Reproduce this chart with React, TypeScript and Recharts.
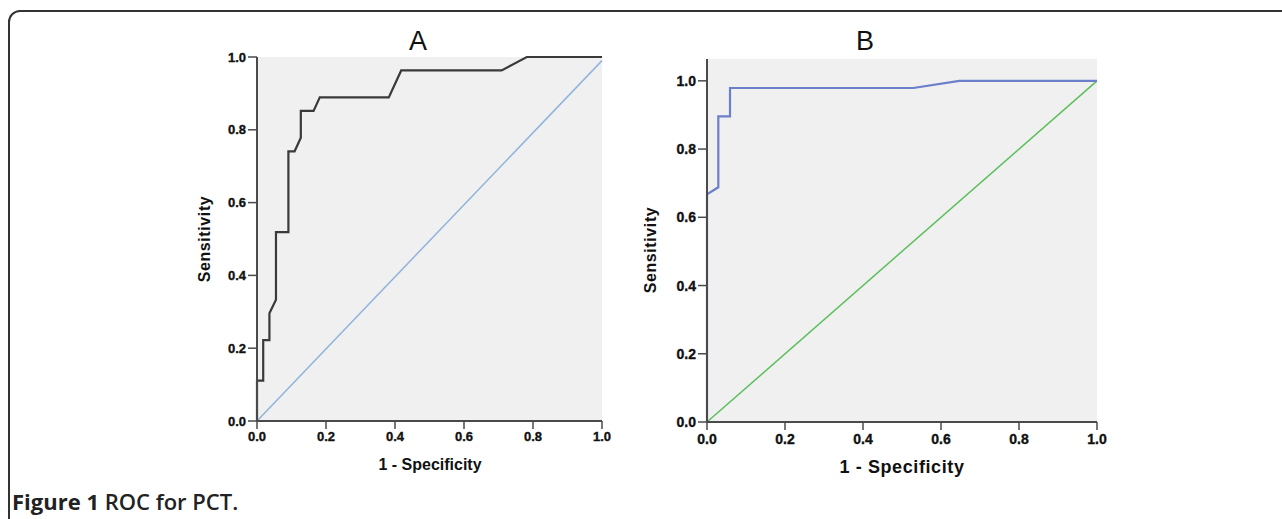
import { CartesianGrid, Line, LineChart, XAxis, YAxis } from "recharts";

// panel A: ROC points (1 - specificity, sensitivity)
const rocA_x = [0, 0, 0.018, 0.018, 0.036, 0.036, 0.055, 0.055, 0.091, 0.091, 0.109, 0.127, 0.127, 0.164, 0.182, 0.382, 0.418, 0.709, 0.782, 1.0];
const rocA_y = [0, 0.111, 0.111, 0.222, 0.222, 0.296, 0.333, 0.519, 0.519, 0.741, 0.741, 0.778, 0.852, 0.852, 0.889, 0.889, 0.963, 0.963, 1.0, 1.0];
const refA_x = [0, 1];
const refA_y = [0, 0.99];

// panel B
const rocB_x = [0, 0, 0.029, 0.029, 0.059, 0.059, 0.529, 0.647, 1.0];
const rocB_y = [0, 0.667, 0.688, 0.896, 0.896, 0.979, 0.979, 1.0, 1.0];
const refB_x = [0, 1];
const refB_y = [0, 1];

const ticks = [0, 0.2, 0.4, 0.6, 0.8, 1.0];

const zip = (xs: number[], ys: number[]) => xs.map((x, i) => ({ x, y: ys[i] }));

const FONT = "'Liberation Sans', Arial, sans-serif";
const AXIS = "#4a4a4a";

const makeTick = (size: number, axis: "x" | "y", dy: number) => (props: any) => {
  const { x, y, payload } = props;
  const txt = Number(payload.value).toFixed(1);
  const common = { fontSize: size, fontWeight: 700, fill: "#111", stroke: "#111", strokeWidth: 0.35, fontFamily: FONT };
  if (axis === "x") {
    return (
      <text x={x} y={y + dy} textAnchor="middle" {...common}>
        {txt}
      </text>
    );
  }
  return (
    <text x={x} y={y + size * 0.36} textAnchor="end" {...common}>
      {txt}
    </text>
  );
};

interface PanelProps {
  left: number;
  top: number;
  width: number;
  height: number;
  margin: { top: number; right: number; bottom: number; left: number };
  yMax: number;
  curve: { x: number; y: number }[];
  ref: { x: number; y: number }[];
  curveColor: string;
  refColor: string;
  tickSize: number;
  tickDy: number;
}

function Panel(p: PanelProps) {
  return (
    <div style={{ position: "absolute", left: p.left, top: p.top }}>
      <LineChart width={p.width} height={p.height} margin={p.margin}>
        <CartesianGrid horizontal={false} vertical={false} fill="#f0f0f0" />
        <XAxis
          type="number"
          dataKey="x"
          domain={[0, 1]}
          ticks={ticks}
          height={50}
          tickSize={8}
          tick={makeTick(p.tickSize, "x", p.tickDy)}
          axisLine={{ stroke: AXIS, strokeWidth: 2 }}
          tickLine={{ stroke: AXIS, strokeWidth: 1.5 }}
        />
        <XAxis xAxisId="top" orientation="top" type="number" domain={[0, 1]} height={0} tick={false} tickLine={false} axisLine={{ stroke: AXIS, strokeWidth: 2 }} />
        <YAxis
          type="number"
          dataKey="y"
          domain={[0, p.yMax]}
          ticks={ticks}
          width={60}
          tickSize={9}
          tick={makeTick(p.tickSize, "y", 0)}
          axisLine={{ stroke: AXIS, strokeWidth: 2 }}
          tickLine={{ stroke: AXIS, strokeWidth: 1.5 }}
        />
        <YAxis yAxisId="right" orientation="right" type="number" domain={[0, p.yMax]} width={0} tick={false} tickLine={false} axisLine={{ stroke: AXIS, strokeWidth: 2 }} />
        <Line data={p.ref} dataKey="y" type="linear" stroke={p.refColor} strokeWidth={1.5} dot={false} isAnimationActive={false} />
        <Line data={p.curve} dataKey="y" type="linear" stroke={p.curveColor} strokeWidth={2.2} dot={false} isAnimationActive={false} />
      </LineChart>
    </div>
  );
}

const label = (extra: React.CSSProperties): React.CSSProperties => ({
  position: "absolute",
  fontFamily: FONT,
  color: "#111",
  whiteSpace: "nowrap",
  lineHeight: 1,
  ...extra,
});

export default function App() {
  return (
    <div style={{ position: "absolute", left: 0, top: 0, width: 1282, height: 519, overflow: "hidden", background: "#fff" }}>
      <div
        style={{
          position: "absolute",
          left: 8,
          top: 10,
          width: 1400,
          height: 700,
          border: "2px solid #333",
          borderRadius: 12,
          boxSizing: "border-box",
        }}
      />

      <Panel
        left={180}
        top={20}
        width={440}
        height={470}
        margin={{ top: 37, right: 18, bottom: 19, left: 17 }}
        yMax={1}
        curve={zip(rocA_x, rocA_y)}
        ref={zip(refA_x, refA_y)}
        curveColor="#3a3a3a"
        refColor="#8fb3dc"
        tickSize={13}
        tickDy={10}
      />
      <Panel
        left={630}
        top={20}
        width={490}
        height={470}
        margin={{ top: 39, right: 23, bottom: 18, left: 17 }}
        yMax={1.064}
        curve={zip(rocB_x, rocB_y)}
        ref={zip(refB_x, refB_y)}
        curveColor="#6b7fca"
        refColor="#5cbf5c"
        tickSize={14}
        tickDy={12}
      />

      <div style={label({ left: 418, top: 28, fontSize: 27, transform: "translateX(-50%)" })}>A</div>
      <div style={label({ left: 865, top: 28, fontSize: 27, transform: "translateX(-50%)" })}>B</div>

      <div style={label({ left: 205, top: 239, fontSize: 16, fontWeight: 700, letterSpacing: 0.6, transform: "translate(-50%, -50%) rotate(-90deg)" })}>Sensitivity</div>
      <div style={label({ left: 651, top: 250, fontSize: 16, fontWeight: 700, letterSpacing: 0.6, transform: "translate(-50%, -50%) rotate(-90deg)" })}>Sensitivity</div>

      <div style={label({ left: 430, top: 465, fontSize: 16, fontWeight: 700, transform: "translate(-50%, -50%)" })}>1 - Specificity</div>
      <div style={label({ left: 902, top: 467, fontSize: 18, fontWeight: 700, letterSpacing: 0.6, transform: "translate(-50%, -50%)" })}>1 - Specificity</div>

      <div style={label({ left: 12, top: 490, fontSize: 22, fontFamily: "'Open Sans', 'Noto Sans', sans-serif", color: "#222" })}>
        <span style={{ fontWeight: 700 }}>Figure 1</span> <span style={{ fontWeight: 600 }}>ROC for PCT.</span>
      </div>
    </div>
  );
}
